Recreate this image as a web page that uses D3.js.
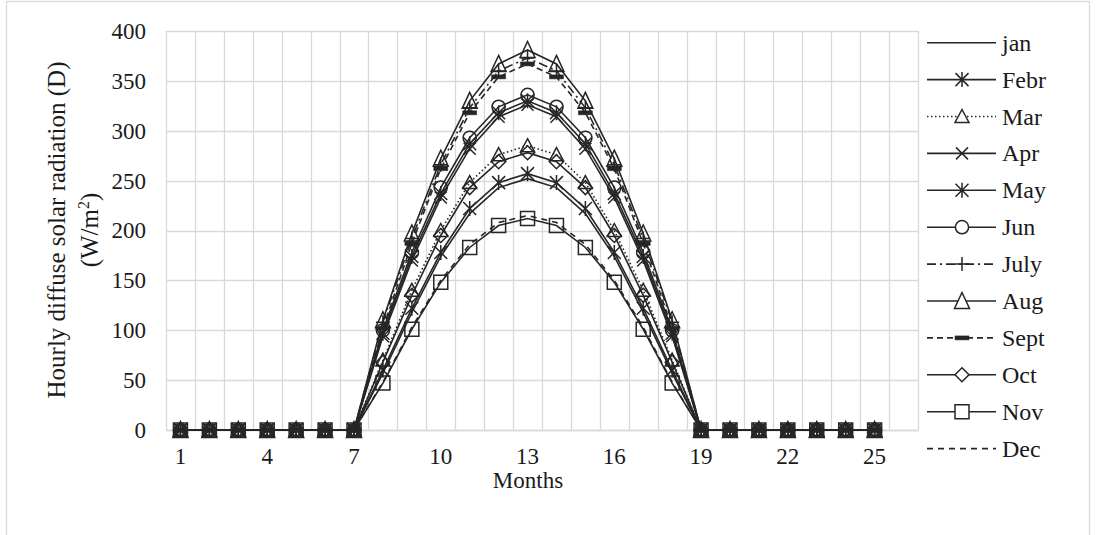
<!DOCTYPE html>
<html>
<head>
<meta charset="utf-8">
<script src="https://cdn.jsdelivr.net/npm/d3@7"></script>
<style>
  html, body { margin: 0; padding: 0; background: #fff; }
  svg { display: block; }
  svg text { font-family: "Liberation Serif", "Times New Roman", serif !important; fill: #1a1a1a; }
</style>
</head>
<body>
<svg id="chart" width="1097" height="535"></svg>
<script>
// ---------- data ----------
const hours = [1,2,3,4,5,6,7,8,9,10,11,12,13,14,15,16,17,18,19,20,21,22,23,24,25,26];
const xTickLabels = [1,4,7,10,13,16,19,22,25];
const yTicks = [0,50,100,150,200,250,300,350,400];

const jan  = [0,0,0,0,0,0,0, 57,118,174,217,243,252,243,217,174,118,57, 0,0,0,0,0,0,0];
const febr = [0,0,0,0,0,0,0, 60,122,178,222,248,257,248,222,178,122,60, 0,0,0,0,0,0,0];
const mar  = [0,0,0,0,0,0,0, 70,140,200,248,276,285,276,248,200,140,70, 0,0,0,0,0,0,0];
const apr  = [0,0,0,0,0,0,0, 94,170,233,282,314,326,314,282,233,170,94, 0,0,0,0,0,0,0];
const may  = [0,0,0,0,0,0,0, 97,174,237,287,318,330,318,287,237,174,97, 0,0,0,0,0,0,0];
const jun  = [0,0,0,0,0,0,0, 100,178,243,293,324,336,324,293,243,178,100, 0,0,0,0,0,0,0];
const july = [0,0,0,0,0,0,0, 108,192,266,323,360,373,360,323,266,192,108, 0,0,0,0,0,0,0];
const aug  = [0,0,0,0,0,0,0, 110,197,272,330,367,381,367,330,272,197,110, 0,0,0,0,0,0,0];
const sept = [0,0,0,0,0,0,0, 102,187,262,318,354,367,354,318,262,187,102, 0,0,0,0,0,0,0];
const oct  = [0,0,0,0,0,0,0, 68,135,195,243,269,278,269,243,195,135,68, 0,0,0,0,0,0,0];
const nov  = [0,0,0,0,0,0,0, 47,101,148,183,205,212,205,183,148,101,47, 0,0,0,0,0,0,0];
const dec  = [0,0,0,0,0,0,0, 48,103,150,186,208,215,208,186,150,103,48, 0,0,0,0,0,0,0];

const seriesNames = ["jan","Febr","Mar","Apr","May","Jun","July","Aug","Sept","Oct","Nov","Dec"];
const seriesValues = [jan, febr, mar, apr, may, jun, july, aug, sept, oct, nov, dec];

// ---------- styles ----------
const styles = {
  "jan":  {dash: null,          marker: null},
  "Febr": {dash: null,          marker: "star"},
  "Mar":  {dash: "1.5,2.5",     marker: "triangle"},
  "Apr":  {dash: null,          marker: "x"},
  "May":  {dash: null,          marker: "star"},
  "Jun":  {dash: null,          marker: "circle"},
  "July": {dash: "9,4,2,4",     marker: "plus"},
  "Aug":  {dash: null,          marker: "triangleBig"},
  "Sept": {dash: "6,4",         marker: "dash"},
  "Oct":  {dash: null,          marker: "diamond"},
  "Nov":  {dash: null,          marker: "square"},
  "Dec":  {dash: "6,5",         marker: null}
};

const ink = "#262626";
const grid = "#d9d9d9";
const FONT = '"Liberation Serif", "Times New Roman", serif';
const FS = 23;

const svg = d3.select("#chart");

// chart border
svg.append("rect").attr("x", 6.5).attr("y", 1.5).attr("width", 1083).attr("height", 560)
  .attr("fill", "none").attr("stroke", grid).attr("stroke-width", 1.3);

const plot = {left: 166, right: 918, top: 31, bottom: 430};

const x = d3.scaleBand().domain(hours).range([plot.left, plot.right]).padding(0);
const y = d3.scaleLinear().domain([0, 400]).range([plot.bottom, plot.top]);

// horizontal gridlines
svg.append("g").selectAll("line").data(yTicks).join("line")
  .attr("x1", plot.left).attr("x2", plot.right)
  .attr("y1", d => Math.round(y(d)) + 0.5).attr("y2", d => Math.round(y(d)) + 0.5)
  .attr("stroke", grid).attr("stroke-width", 1.3);

// vertical gridlines at category boundaries
const bounds = hours.map(h => x(h)).concat([plot.right]);
svg.append("g").selectAll("line").data(bounds).join("line")
  .attr("x1", d => Math.round(d) + 0.5).attr("x2", d => Math.round(d) + 0.5)
  .attr("y1", plot.top).attr("y2", plot.bottom)
  .attr("stroke", grid).attr("stroke-width", 1.3);

// axes
const xAxis = d3.axisBottom(x).tickValues(xTickLabels).tickSize(0).tickPadding(18);
const gx = svg.append("g").attr("transform", `translate(0,${plot.bottom})`).call(xAxis);
gx.attr("font-family", FONT).attr("font-size", FS);
gx.select(".domain").attr("stroke", grid).attr("stroke-width", 1.3);
gx.selectAll("text").attr("fill", "#1a1a1a");

const yAxis = d3.axisLeft(y).tickValues(yTicks).tickSize(0).tickPadding(20);
const gy = svg.append("g").attr("transform", `translate(${plot.left},0)`).call(yAxis);
gy.attr("font-family", FONT).attr("font-size", FS);
gy.select(".domain").remove();
gy.selectAll("text").attr("fill", "#1a1a1a");

// axis titles
svg.append("text").attr("x", 528).attr("y", 488).attr("text-anchor", "middle")
  .attr("font-family", FONT).attr("font-size", FS).text("Months");

const yt = svg.append("text").attr("transform", "translate(65,230) rotate(-90)")
  .attr("text-anchor", "middle").attr("font-family", FONT).attr("font-size", 25);
yt.append("tspan").attr("x", 0).attr("y", 0).text("Hourly diffuse solar radiation (D)");
yt.append("tspan").attr("x", 0).attr("dy", 33).text("(W/m");
yt.append("tspan").attr("dy", -9).attr("font-size", 16).text("2");
yt.append("tspan").attr("dy", 9).text(")");

// marker paths
function markerPath(type) {
  switch (type) {
    case "star": { const h = 6.5; return `M${-h},${-h}L${h},${h}M${-h},${h}L${h},${-h}M0,${-h-1}L0,${h+1}`; }
    case "x": { const h = 6; return `M${-h},${-h}L${h},${h}M${-h},${h}L${h},${-h}`; }
    case "plus": { const h = 7; return `M${-h},0L${h},0M0,${-h}L0,${h}`; }
    case "triangle": { const h = 7; return `M0,${-h}L${h},${h*0.85}L${-h},${h*0.85}Z`; }
    case "triangleBig": { const h = 7.5; return `M0,${-h-1}L${h},${h}L${-h},${h}Z`; }
    case "diamond": { const h = 7; return `M0,${-h}L${h},0L0,${h}L${-h},0Z`; }
    case "square": { const h = 7; return `M${-h},${-h}L${h},${-h}L${h},${h}L${-h},${h}Z`; }
    case "circle": { const r = 6.6; return `M${r},0A${r},${r} 0 1,1 ${-r},0A${r},${r} 0 1,1 ${r},0Z`; }
    case "dash": { return `M-7,-2L7,-2L7,2L-7,2Z`; }
  }
  return "";
}

const line = d3.line()
  .x((d, i) => x(hours[i]) + x.bandwidth() / 2)
  .y(d => y(d));

const series = svg.append("g");
seriesNames.forEach((name, si) => {
  const vals = seriesValues[si];
  const st = styles[name];
  const g = series.append("g");
  g.append("path").datum(vals).attr("d", line)
    .attr("fill", "none").attr("stroke", ink).attr("stroke-width", 1.6)
    .attr("stroke-dasharray", st.dash);
  if (st.marker) {
    g.selectAll("path.m").data(vals).join("path").attr("class", "m")
      .attr("transform", (d, i) => `translate(${x(hours[i]) + x.bandwidth() / 2},${y(d)})`)
      .attr("d", markerPath(st.marker))
      .attr("fill", st.marker === "dash" ? ink : "none")
      .attr("stroke", ink).attr("stroke-width", st.marker === "dash" ? 0.5 : 1.5);
  }
});

// legend
const leg = svg.append("g");
seriesNames.forEach((name, i) => {
  const st = styles[name];
  const ly = 42.7 + i * 36.9;
  const row = leg.append("g").attr("transform", `translate(0,${ly})`);
  row.append("line").attr("x1", 927).attr("x2", 996).attr("y1", 0).attr("y2", 0)
    .attr("stroke", ink).attr("stroke-width", 1.6).attr("stroke-dasharray", st.dash);
  if (st.marker) {
    row.append("path").attr("transform", "translate(962,0)")
      .attr("d", markerPath(st.marker))
      .attr("fill", st.marker === "dash" ? ink : "#fff")
      .attr("stroke", ink).attr("stroke-width", st.marker === "dash" ? 0.5 : 1.5);
  }
  row.append("text").attr("x", 1002).attr("y", 8)
    .attr("font-family", FONT).attr("font-size", 24).text(name);
});
</script>
</body>
</html>
